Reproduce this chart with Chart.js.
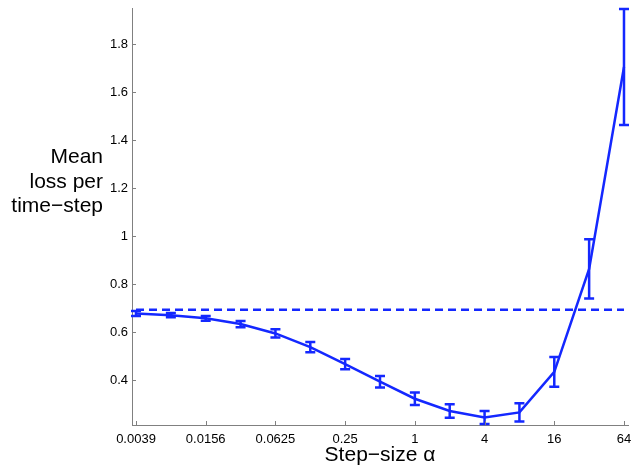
<!DOCTYPE html>
<html>
<head>
<meta charset="utf-8">
<script src="https://cdn.jsdelivr.net/npm/chart.js@4/dist/chart.umd.min.js"></script>
<style>
  html, body { margin: 0; padding: 0; background: #fff; }
  #wrap { width: 632px; height: 465px; }
</style>
</head>
<body>
<div id="wrap"><canvas id="lossChart" width="632" height="465"></canvas></div>
<script>
// step sizes (powers of two, 2^-8 .. 2^6)
const alphas = [0.00390625, 0.0078125, 0.015625, 0.03125, 0.0625, 0.125, 0.25, 0.5, 1, 2, 4, 8, 16, 32, 64];
const meanLoss = [0.677, 0.670, 0.657, 0.633, 0.594, 0.537, 0.466, 0.393, 0.322, 0.271, 0.244, 0.265, 0.434, 0.863, 1.704];
const lossErr = [0.010, 0.009, 0.010, 0.013, 0.017, 0.021, 0.021, 0.024, 0.026, 0.028, 0.027, 0.038, 0.062, 0.123, 0.242];
const baselineLoss = 0.693;

const xTickValues = [0.00390625, 0.015625, 0.0625, 0.25, 1, 4, 16, 64];
const xTickLabels = ["0.0039", "0.0156", "0.0625", "0.25", "1", "4", "16", "64"];
const yTickValues = [0.4, 0.6, 0.8, 1.0, 1.2, 1.4, 1.6, 1.8];
const yTickLabels = ["0.4", "0.6", "0.8", "1", "1.2", "1.4", "1.6", "1.8"];
const yTitleLines = ["Mean", "loss per", "time\u2212step"];

const BLUE = "#1428ff";
const AXIS = "#808080";
const FONT = "'Liberation Sans', Arial, Helvetica, sans-serif";

// error bars + inward tick marks + horizontal y label
const extras = {
  id: "extras",
  afterDatasetsDraw(chart) {
    const ctx = chart.ctx;
    const xs = chart.scales.x, ys = chart.scales.y;
    ctx.save();
    ctx.strokeStyle = BLUE;
    ctx.lineWidth = 2.5;
    alphas.forEach((a, i) => {
      const px = xs.getPixelForValue(a);
      const top = ys.getPixelForValue(meanLoss[i] + lossErr[i]);
      const bot = ys.getPixelForValue(meanLoss[i] - lossErr[i]);
      ctx.beginPath();
      ctx.moveTo(px, top); ctx.lineTo(px, bot);
      ctx.moveTo(px - 5, top); ctx.lineTo(px + 5, top);
      ctx.moveTo(px - 5, bot); ctx.lineTo(px + 5, bot);
      ctx.stroke();
    });
    ctx.restore();
  },
  afterDraw(chart) {
    const ctx = chart.ctx;
    const xs = chart.scales.x, ys = chart.scales.y;
    const area = chart.chartArea;
    ctx.save();
    ctx.strokeStyle = AXIS;
    ctx.lineWidth = 1;
    ctx.beginPath();
    xTickValues.forEach(v => {
      const px = Math.round(xs.getPixelForValue(v)) + 0.5;
      ctx.moveTo(px, area.bottom); ctx.lineTo(px, area.bottom - 4);
    });
    yTickValues.forEach(v => {
      const py = Math.round(ys.getPixelForValue(v)) + 0.5;
      ctx.moveTo(area.left, py); ctx.lineTo(area.left + 4, py);
    });
    ctx.stroke();

    ctx.fillStyle = "#000";
    ctx.font = "21px " + FONT;
    ctx.textAlign = "right";
    ctx.textBaseline = "alphabetic";
    yTitleLines.forEach((t, i) => ctx.fillText(t, 103, 163 + i * 24.5));
    ctx.restore();
  }
};

new Chart(document.getElementById("lossChart"), {
  type: "line",
  data: {
    datasets: [
      {
        label: "loss",
        data: alphas.map((a, i) => ({ x: a, y: meanLoss[i] })),
        borderColor: BLUE,
        borderWidth: 2.5,
        pointRadius: 0,
        tension: 0,
        clip: false
      },
      {
        label: "baseline",
        data: [{ x: alphas[0], y: baselineLoss }, { x: alphas[alphas.length - 1], y: baselineLoss }],
        borderColor: BLUE,
        borderWidth: 2.5,
        borderDash: [8, 5],
        pointRadius: 0
      }
    ]
  },
  options: {
    responsive: false,
    animation: false,
    layout: { padding: { top: 8, right: 4, left: 0, bottom: 0 } },
    plugins: { legend: { display: false }, tooltip: { enabled: false } },
    scales: {
      x: {
        type: "logarithmic",
        min: Math.pow(2, -8.115),
        max: Math.pow(2, 6.115),
        afterBuildTicks: s => { s.ticks = xTickValues.map(v => ({ value: v })); },
        afterFit: s => { s.height = 40; s.paddingLeft = 0; s.paddingRight = 0; },
        grid: { display: true, drawOnChartArea: false, drawTicks: false },
        border: { display: true, color: AXIS, width: 1 },
        ticks: {
          autoSkip: false,
          maxRotation: 0,
          padding: 7,
          color: "#000",
          font: { family: FONT, size: 13 },
          callback: (v, i) => xTickLabels[i]
        },
        title: {
          display: true,
          text: "Step\u2212size \u03b1",
          color: "#000",
          font: { family: FONT, size: 21, lineHeight: 1 },
          padding: { top: 0, bottom: -1 }
        }
      },
      y: {
        type: "linear",
        min: 0.2125,
        max: 1.95,
        afterBuildTicks: s => { s.ticks = yTickValues.map(v => ({ value: v })); },
        afterFit: s => { s.width = 132; s.paddingTop = 0; s.paddingBottom = 0; },
        grid: { display: true, drawOnChartArea: false, drawTicks: false },
        border: { display: true, color: AXIS, width: 1 },
        ticks: {
          padding: 4,
          color: "#000",
          font: { family: FONT, size: 13 },
          callback: (v, i) => yTickLabels[i]
        }
      }
    }
  },
  plugins: [extras]
});
</script>
</body>
</html>
